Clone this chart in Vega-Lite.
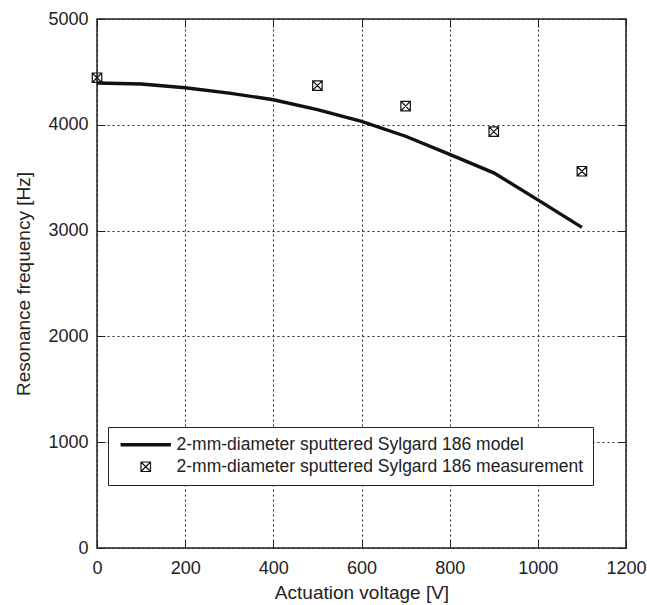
{
  "$schema": "https://vega.github.io/schema/vega-lite/v6.json",
  "width": 529,
  "height": 529,
  "autosize": "none",
  "padding": {"left": 97, "top": 19, "right": 21, "bottom": 57},
  "background": "white",
  "config": {
    "font": "Liberation Sans",
    "view": {"stroke": "#222", "strokeWidth": 1.5},
    "axis": {
      "labelFont": "Liberation Sans",
      "titleFont": "Liberation Sans",
      "labelFontSize": 18,
      "titleFontSize": 19,
      "labelColor": "#222",
      "titleColor": "#222",
      "titleFontWeight": "normal",
      "tickColor": "#222",
      "tickSize": -8,
      "tickWidth": 1,
      "domain": false,
      "gridColor": "#222",
      "gridDash": [2, 3],
      "gridWidth": 1,
      "gridOpacity": 1,
      "format": "d"
    },
    "legend": {
      "labelFont": "Liberation Sans",
      "labelFontSize": 17.5,
      "labelColor": "#222",
      "labelLimit": 0
    }
  },
  "datasets": {
    "model": [
      {"voltage": 0, "frequency": 4395, "series": "2-mm-diameter sputtered Sylgard 186 model"},
      {"voltage": 100, "frequency": 4385, "series": "2-mm-diameter sputtered Sylgard 186 model"},
      {"voltage": 200, "frequency": 4350, "series": "2-mm-diameter sputtered Sylgard 186 model"},
      {"voltage": 300, "frequency": 4300, "series": "2-mm-diameter sputtered Sylgard 186 model"},
      {"voltage": 400, "frequency": 4237, "series": "2-mm-diameter sputtered Sylgard 186 model"},
      {"voltage": 500, "frequency": 4144, "series": "2-mm-diameter sputtered Sylgard 186 model"},
      {"voltage": 600, "frequency": 4032, "series": "2-mm-diameter sputtered Sylgard 186 model"},
      {"voltage": 700, "frequency": 3892, "series": "2-mm-diameter sputtered Sylgard 186 model"},
      {"voltage": 800, "frequency": 3720, "series": "2-mm-diameter sputtered Sylgard 186 model"},
      {"voltage": 900, "frequency": 3546, "series": "2-mm-diameter sputtered Sylgard 186 model"},
      {"voltage": 1000, "frequency": 3290, "series": "2-mm-diameter sputtered Sylgard 186 model"},
      {"voltage": 1100, "frequency": 3031, "series": "2-mm-diameter sputtered Sylgard 186 model"}
    ],
    "measurement": [
      {"voltage": 0, "frequency": 4445, "series": "2-mm-diameter sputtered Sylgard 186 measurement"},
      {"voltage": 500, "frequency": 4371, "series": "2-mm-diameter sputtered Sylgard 186 measurement"},
      {"voltage": 700, "frequency": 4176, "series": "2-mm-diameter sputtered Sylgard 186 measurement"},
      {"voltage": 900, "frequency": 3936, "series": "2-mm-diameter sputtered Sylgard 186 measurement"},
      {"voltage": 1100, "frequency": 3561, "series": "2-mm-diameter sputtered Sylgard 186 measurement"}
    ]
  },
  "layer": [
    {
      "data": {"name": "model"},
      "mark": {"type": "line", "color": "#111", "strokeWidth": 3.4, "clip": true},
      "encoding": {
        "x": {
          "field": "voltage", "type": "quantitative",
          "scale": {"domain": [0, 1200], "nice": false},
          "axis": {"orient": "bottom", "values": [0, 200, 400, 600, 800, 1000, 1200], "title": "Actuation voltage [V]", "labelPadding": 19, "titlePadding": 6, "labelFlush": false}
        },
        "y": {
          "field": "frequency", "type": "quantitative",
          "scale": {"domain": [0, 5000], "nice": false},
          "axis": {"orient": "left", "values": [0, 1000, 2000, 3000, 4000, 5000], "title": "Resonance frequency [Hz]", "labelPadding": 17, "titlePadding": 14, "labelFlush": false}
        }
      }
    },
    {
      "data": {"name": "measurement"},
      "mark": {"type": "point", "filled": false, "stroke": "#111", "size": 90, "opacity": 1},
      "encoding": {
        "x": {
          "field": "voltage", "type": "quantitative",
          "scale": {"domain": [0, 1200], "nice": false},
          "axis": {"orient": "top", "values": [0, 200, 400, 600, 800, 1000, 1200], "labels": false, "title": null, "grid": false}
        },
        "y": {
          "field": "frequency", "type": "quantitative",
          "scale": {"domain": [0, 5000], "nice": false},
          "axis": {"orient": "right", "values": [0, 1000, 2000, 3000, 4000, 5000], "labels": false, "title": null, "grid": false}
        },
        "shape": {
          "field": "series", "type": "nominal",
          "scale": {
            "domain": ["2-mm-diameter sputtered Sylgard 186 model", "2-mm-diameter sputtered Sylgard 186 measurement"],
            "range": ["M-5.3,0L5.3,0", "M-1,-1L1,-1L1,1L-1,1ZM-1,-1L1,1M1,-1L-1,1"]
          },
          "legend": {
            "title": null,
            "orient": "none",
            "legendX": 11,
            "legendY": 408,
            "padding": 9,
            "rowPadding": 3,
            "symbolOffset": 20,
            "labelOffset": 22,
            "symbolSize": 90,
            "symbolStrokeColor": "#111",
            "symbolFillColor": "transparent",
            "strokeColor": "#222",
            "fillColor": "white",
            "symbolOpacity": 1,
            "labelLimit": 0
          }
        },
        "strokeWidth": {
          "field": "series", "type": "nominal",
          "scale": {
            "domain": ["2-mm-diameter sputtered Sylgard 186 model", "2-mm-diameter sputtered Sylgard 186 measurement"],
            "range": [3.4, 1.2]
          },
          "legend": {
            "title": null,
            "orient": "none",
            "legendX": 11,
            "legendY": 408
          }
        }
      }
    }
  ],
  "resolve": {"axis": {"x": "independent", "y": "independent"}}
}
